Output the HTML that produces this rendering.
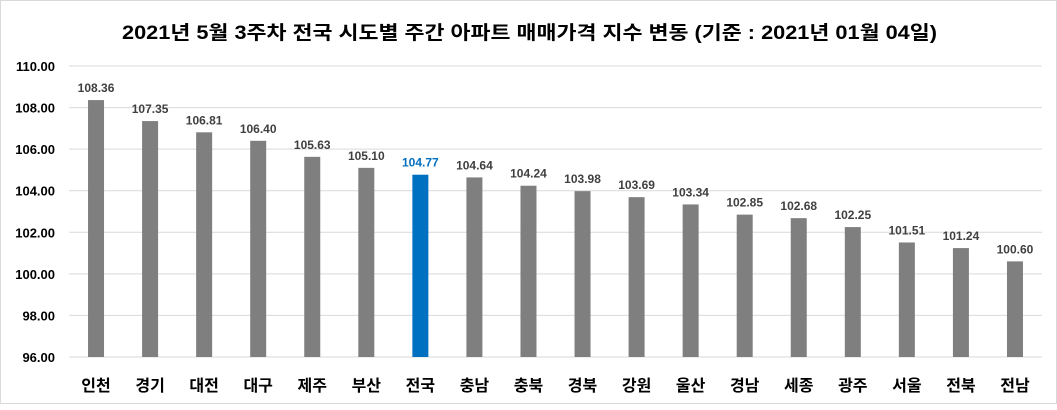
<!DOCTYPE html>
<html><head><meta charset="utf-8"><style>
body{margin:0;background:#fff}
#c{position:absolute;left:0;top:0;width:1055px;height:402px;border:1px solid #d9d9d9}
text{font-family:"Liberation Sans","Noto Sans CJK KR",sans-serif}
</style></head><body>
<div id="c">
<svg id="s" width="1057" height="404">
<text x="121" y="38" textLength="815" lengthAdjust="spacingAndGlyphs" font-size="19" font-weight="bold" fill="#000">2021년 5월 3주차 전국 시도별 주간 아파트 매매가격 지수 변동 (기준 : 2021년 01월 04일)</text>
</svg></div>
<script>
const categories=["인천","경기","대전","대구","제주","부산","전국","충남","충북","경북","강원","울산","경남","세종","광주","서울","전북","전남"];
const values=[108.36,107.35,106.81,106.40,105.63,105.10,104.77,104.64,104.24,103.98,103.69,103.34,102.85,102.68,102.25,101.51,101.24,100.60];
const ticks=[96,98,100,102,104,106,108,110];
const highlight="전국";
const svg=document.getElementById('s');const NS='http://www.w3.org/2000/svg';
const x0=68,x1=1041,yMin=96,yMax=110,yTop=65,yBot=356;
const bw=(x1-x0)/categories.length;
function y(v){return yBot-(v-yMin)/(yMax-yMin)*(yBot-yTop);}
function xc(i){return x0+bw*(i+0.5);}
function mk(t,a){const e=document.createElementNS(NS,t);for(const k in a)e.setAttribute(k,a[k]);svg.appendChild(e);return e;}
ticks.forEach(t=>{
 const l=mk('line',{x1:x0,x2:x1,y1:y(t),y2:y(t),stroke:'#d9d9d9','stroke-width':1});
 
 
 const tx=mk('text',{x:54,y:y(t)+5,'text-anchor':'end','font-size':13,'font-weight':'bold',fill:'#000'});
 tx.textContent=t.toFixed(2);
 
 
});
categories.forEach((c,i)=>{
 const v=values[i];const hl=c===highlight;
 const r=mk('rect',{x:xc(i)-8,y:y(v),width:16,height:yBot-y(v),fill:hl?'#0070c0':'#7f7f7f'});
 
 
 const lb=mk('text',{x:xc(i),y:y(v)-8,'text-anchor':'middle','font-size':12,'font-weight':'bold',fill:hl?'#0070c0':'#404040'});
 lb.textContent=v.toFixed(2);
 
 
 const cl=mk('text',{x:xc(i),y:390,'text-anchor':'middle','font-size':16,'font-weight':'bold',fill:'#000'});
 cl.textContent=c;
 
 
});
</script>
</body></html>
